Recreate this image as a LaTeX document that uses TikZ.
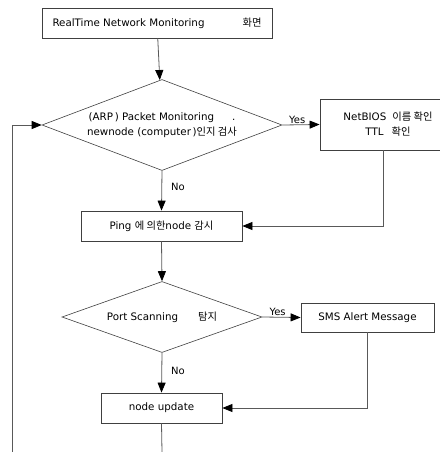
\documentclass[tikz,border=0pt]{standalone}
\usepackage{fontspec}
\setmainfont{DejaVu Sans}
\newfontfamily\kr{Noto Sans CJK KR}
\usetikzlibrary{arrows.meta, shapes.geometric, calc}

\tikzset{
    box/.style={draw=black!75, line width=0.8pt, fill=white, inner sep=0pt,
        font=\fontsize{10.3}{15}\selectfont, align=center},
    decision/.style={diamond, draw=black!75, line width=0.6pt, inner sep=0pt,
        font=\fontsize{10.3}{15}\selectfont, align=center},
    flow/.style={draw=black!65, line width=0.8pt, -{Triangle[length=10pt,width=8pt,black]}},
    link/.style={draw=black!65, line width=0.8pt},
    lbl/.style={font=\fontsize{10}{12}\selectfont, inner sep=1pt}
}

\begin{document}
\begin{tikzpicture}[x=1pt, y=-1pt]
    \useasboundingbox (0,0) rectangle (439,452);

    % boxes
    \node[box, minimum width=230pt, minimum height=30pt] (screen) at (157,23)
        {RealTime Network Monitoring\hspace{38pt}{\kr 화면}};
    \node[decision, aspect=2.64, minimum width=240pt, minimum height=91pt] (arp) at (162,125)
        {(ARP\,) Packet Monitoring\hspace{18pt}.\\newnode (computer\,){\kr 인지 검사}};
    \node[box, minimum width=136pt, minimum height=51pt] (netbios) at (388,124.5)
        {NetBIOS\hspace{6pt}{\kr 이름 확인}\\TTL\hspace{8pt}{\kr 확인}};
    \node[box, minimum width=161pt, minimum height=30pt] (ping) at (161.5,226)
        {Ping {\kr 에 의한}node {\kr 감시}};
    \node[decision, aspect=2.82, minimum width=200pt, minimum height=71pt] (port) at (162,317)
        {Port Scanning\hspace{20pt}{\kr 탐지}};
    \node[box, minimum width=133pt, minimum height=29pt] (sms) at (367.5,317.5)
        {SMS Alert Message};
    \node[box, minimum width=121pt, minimum height=30pt] (update) at (161.5,408)
        {node update};

    \coordinate (down) at (162,452);
    \coordinate (back) at (12,452);

    % connectors
    \draw[flow] (screen) -- (arp);
    \draw[flow] (arp.east) -- node[lbl, above, pos=0.4] {Yes} (netbios.west);
    \draw[flow] ([xshift=-5pt]netbios.south) |- (ping.east);
    \draw[flow] (arp.south) -- node[lbl, right=8pt, pos=0.4] {No} (ping.north);
    \draw[flow] (ping.south) -- (port.north);
    \draw[flow] (port.east) -- node[lbl, above, pos=0.4] {Yes} (sms.west);
    \draw[flow] (sms.south) |- (update.east);
    \draw[flow] (port.south) -- node[lbl, right=8pt, pos=0.45] {No} (update.north);
    \draw[link] (update.south) -- (down);
    \draw[flow] (back) |- (arp.west);
\end{tikzpicture}
\end{document}
